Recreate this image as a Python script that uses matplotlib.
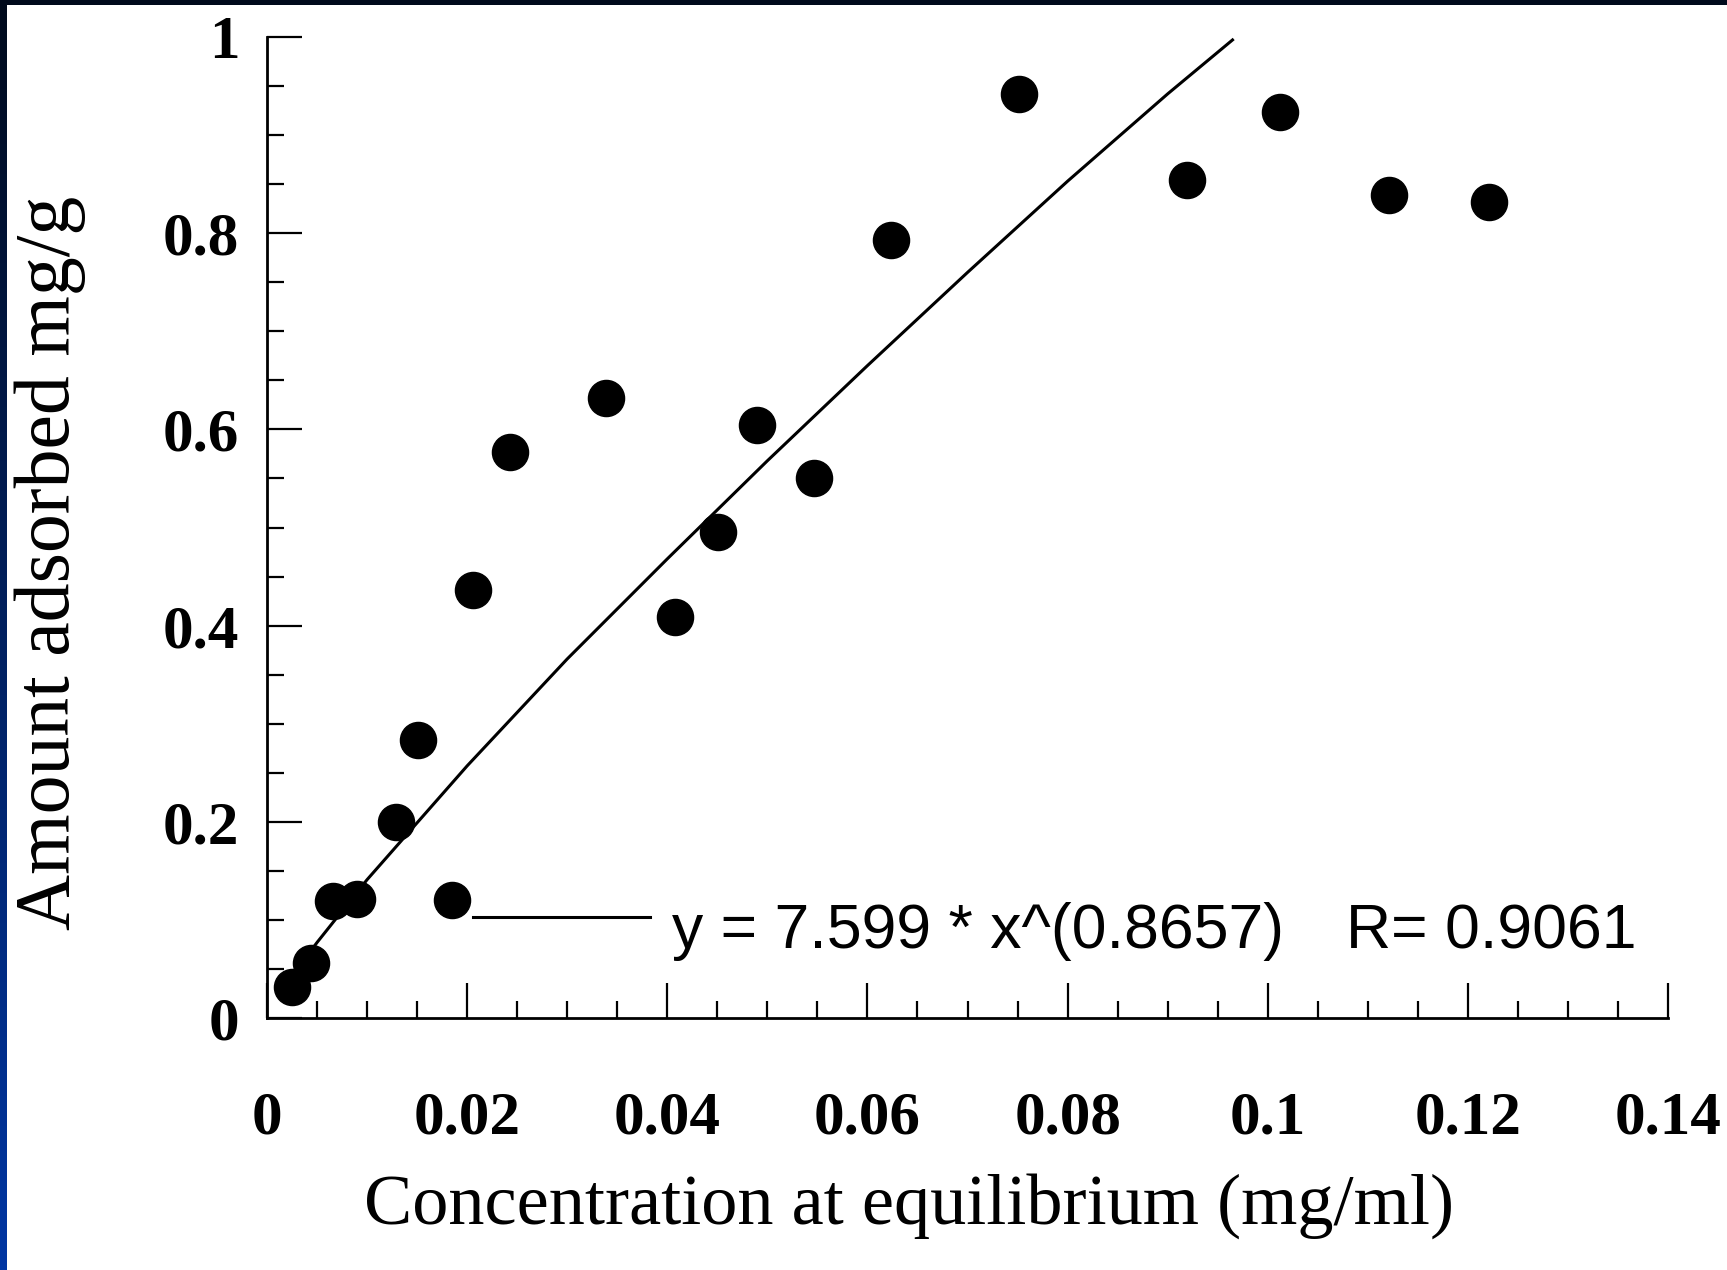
import matplotlib
matplotlib.use('Agg')
import matplotlib.pyplot as plt
import numpy as np

# data
conc = [0.0025, 0.0044, 0.0066, 0.0090, 0.0129, 0.0151, 0.0185, 0.0206,
        0.0243, 0.0339, 0.0408, 0.0451, 0.0490, 0.0547, 0.0624, 0.0751,
        0.0919, 0.1012, 0.1121, 0.1221]
adsorbed = [0.032, 0.056, 0.119, 0.121, 0.200, 0.283, 0.120, 0.436,
            0.577, 0.632, 0.409, 0.495, 0.604, 0.550, 0.793, 0.942,
            0.854, 0.924, 0.839, 0.832]

# fitted curve, points
fit_x = [0.0025, 0.005, 0.01, 0.02, 0.03, 0.04, 0.05, 0.06, 0.07, 0.08,
         0.09, 0.0966]
fit_y = [0.043, 0.077, 0.141, 0.257, 0.366, 0.468, 0.568, 0.665, 0.760,
         0.853, 0.942, 0.998]

# leader line from the point to the equation
lead_x = [0.0206, 0.0383]
lead_y = [0.103, 0.103]

x_ticks = [0, 0.02, 0.04, 0.06, 0.08, 0.1, 0.12, 0.14]
x_labels = ['0', '0.02', '0.04', '0.06', '0.08', '0.1', '0.12', '0.14']
y_ticks = [0, 0.2, 0.4, 0.6, 0.8, 1]
y_labels = ['0', '0.2', '0.4', '0.6', '0.8', '1']

equation = 'y = 7.599 * x^(0.8657)'
r_text = 'R= 0.9061'

W, H = 1727, 1270
fig = plt.figure(figsize=(W / 100, H / 100), dpi=100)
fig.patch.set_facecolor('white')

# navy frame on top and left
top = fig.add_axes([0, 1 - 5 / H, 1, 5 / H])
top.set_facecolor('#000a1c')
top.set_xticks([])
top.set_yticks([])
for s in top.spines.values():
    s.set_visible(False)
left = fig.add_axes([0, 0, 7 / W, 1])
grad = np.linspace(0, 1, 256).reshape(-1, 1)
cmap = matplotlib.colors.LinearSegmentedColormap.from_list('frame', ['#000a1c', '#0036a3'])
left.imshow(grad, aspect='auto', cmap=cmap, origin='upper')
left.axis('off')

ax = fig.add_axes([267 / W, (H - 1018) / H, 1401 / W, 981 / H])
ax.set_xlim(0, 0.14)
ax.set_ylim(0, 1)

ax.plot(fit_x, fit_y, color='black', lw=2.2, solid_capstyle='butt')
ax.plot(lead_x, lead_y, color='black', lw=2.2)
ax.plot(conc, adsorbed, 'o', color='black', markersize=26, clip_on=False)

ax.text(0.0405, 0.071, equation, family='Liberation Sans', fontsize=45,
        va='baseline', ha='left')
ax.text(0.1078, 0.071, r_text, family='Liberation Sans', fontsize=45,
        va='baseline', ha='left')

for side in ['top', 'right']:
    ax.spines[side].set_visible(False)
for side in ['left', 'bottom']:
    ax.spines[side].set_linewidth(2)

ax.set_xticks(x_ticks)
ax.set_xticklabels(x_labels)
ax.set_yticks(y_ticks)
ax.set_yticklabels(y_labels)
ax.set_xticks(np.arange(0, 0.1401, 0.005), minor=True)
ax.set_yticks(np.arange(0, 1.001, 0.05), minor=True)
ax.tick_params(which='major', direction='in', length=25, width=1.6)
ax.tick_params(which='minor', direction='in', length=12, width=1.6)
ax.tick_params(axis='x', which='major', pad=52)
ax.tick_params(axis='y', which='major', pad=20)
for lab in ax.get_xticklabels() + ax.get_yticklabels():
    lab.set_family('Liberation Serif')
    lab.set_fontweight('bold')
    lab.set_fontsize(44)

fig.text(909 / W, 1 - 1206 / H, 'Concentration at equilibrium (mg/ml)',
         family='Liberation Serif', fontsize=52, ha='center', va='center')
fig.text(50 / W, 1 - 563 / H, 'Amount adsorbed mg/g',
         family='Liberation Serif', fontsize=56, ha='center', va='center',
         rotation=90)

fig.savefig('out.png', dpi=100, facecolor='white')
